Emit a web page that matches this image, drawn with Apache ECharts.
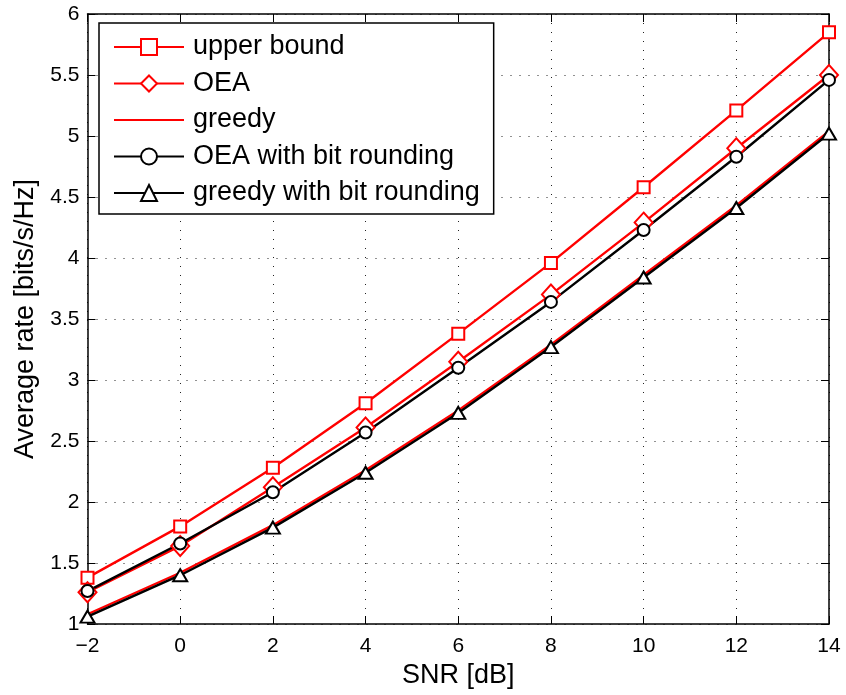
<!DOCTYPE html>
<html><head><meta charset="utf-8">
<script src="https://cdn.jsdelivr.net/npm/echarts@6/dist/echarts.min.js"></script>
<style>html,body{margin:0;padding:0;background:#fff}#c{width:846px;height:695px}</style>
</head><body><div id="c"></div>
<script>
const snr = [-2, 0, 2, 4, 6, 8, 10, 12, 14];
const upperBound = [1.38, 1.80, 2.28, 2.81, 3.38, 3.96, 4.58, 5.21, 5.85];
const oea = [1.26, 1.64, 2.12, 2.61, 3.15, 3.70, 4.29, 4.90, 5.50];
const greedy = [1.08, 1.42, 1.81, 2.26, 2.75, 3.29, 3.86, 4.43, 5.04];
const oeaRound = [1.27, 1.66, 2.08, 2.57, 3.10, 3.64, 4.23, 4.83, 5.46];
const greedyRound = [1.06, 1.40, 1.79, 2.24, 2.73, 3.27, 3.84, 4.41, 5.02];
const names = ['upper bound', 'OEA', 'greedy', 'OEA with bit rounding', 'greedy with bit rounding'];

const pts = arr => snr.map((x, i) => [x, arr[i]]);
const font = 'Liberation Sans, Arial, Helvetica, sans-serif';
const chart = echarts.init(document.getElementById('c'), null, {renderer: 'canvas', width: 846, height: 695});
const gridLine = {show: true, lineStyle: {color: '#222', type: [1, 8], width: 1}};
const baseAxis = {
  axisLine: {show: true, onZero: false, lineStyle: {color: '#000', width: 1.5}},
  axisTick: {show: true, inside: true, length: 8, lineStyle: {color: '#000', width: 1}},
};
function mk(name, data, color, symbol, size) {
  return {
    name, type: 'line', data: pts(data),
    symbol: symbol || 'none', symbolSize: size || 0, showSymbol: !!symbol,
    lineStyle: {color, width: 2.4}, itemStyle: {color: '#fff', borderColor: color, borderWidth: 2},
    emphasis: {disabled: true}, animation: false, z: 3
  };
}
chart.setOption({
  backgroundColor: '#fff',
  animation: false,
  grid: {left: 87.5, width: 741.5, top: 14, height: 610, containLabel: false},
  xAxis: [
    Object.assign({}, baseAxis, {
      type: 'value', min: -2, max: 14, interval: 2, position: 'bottom',
      name: 'SNR [dB]', nameLocation: 'middle', nameGap: 37,
      nameTextStyle: {fontFamily: font, fontSize: 27, color: '#000'},
      axisLabel: {fontFamily: font, fontSize: 21, color: '#000', margin: 12,
        formatter: v => String(v).replace('-', '\u2212')},
      splitLine: gridLine
    }),
    Object.assign({}, baseAxis, {
      type: 'value', min: -2, max: 14, interval: 2, position: 'top',
      axisLabel: {show: false}, splitLine: {show: false}
    })
  ],
  yAxis: [
    Object.assign({}, baseAxis, {
      type: 'value', min: 1, max: 6, interval: 0.5, position: 'left',
      name: 'Average rate [bits/s/Hz]', nameLocation: 'middle', nameGap: 47,
      nameTextStyle: {fontFamily: font, fontSize: 27, color: '#000'},
      axisLabel: {fontFamily: font, fontSize: 21, color: '#000', margin: 8},
      splitLine: gridLine
    }),
    Object.assign({}, baseAxis, {
      type: 'value', min: 1, max: 6, interval: 0.5, position: 'right',
      axisLabel: {show: false}, splitLine: {show: false}
    })
  ],
  legend: {
    orient: 'vertical', left: 99, top: 23, width: 391,
    padding: [9, 14, 6, 14], itemGap: 6.5,
    itemWidth: 70, itemHeight: 20,
    backgroundColor: '#fff', borderColor: '#000', borderWidth: 1.5, borderRadius: 0,
    lineStyle: {width: 2},
    textStyle: {fontFamily: font, fontSize: 27, color: '#000', lineHeight: 30, padding: [0, 0, 0, 4]},
    data: [
      names[0], names[1],
      {name: names[2], icon: 'path://M0,0L70,0L70,2L0,2Z', itemStyle: {color: '#ff0000', borderWidth: 0}},
      names[3], names[4]
    ]
  },
  series: [
    mk(names[0], upperBound, '#ff0000', 'rect', 12),
    mk(names[1], oea, '#ff0000', 'diamond', [18, 20]),
    mk(names[2], greedy, '#ff0000', null, 0),
    mk(names[3], oeaRound, '#000000', 'circle', 12),
    mk(names[4], greedyRound, '#000000', 'triangle', [14, 12])
  ]
});
</script></body></html>
